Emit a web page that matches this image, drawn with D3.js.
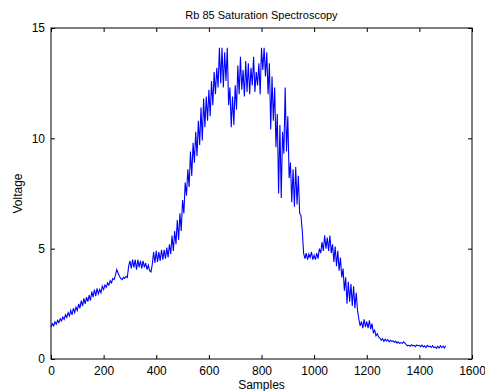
<!DOCTYPE html>
<html><head><meta charset="utf-8">
<script src="https://cdn.jsdelivr.net/npm/d3@7"></script>
<style>body{margin:0;background:#fff}svg{display:block}text{font-family:"Liberation Sans",Arial,sans-serif}</style>
</head><body>
<svg id="c" width="485" height="391"></svg>
<script>
const title = "Rb 85 Saturation Spectroscopy";
const xLabel = "Samples";
const yLabel = "Voltage";
const xTicks = [0,200,400,600,800,1000,1200,1400,1600];
const yTicks = [0,5,10,15];
const sampleStep = 5;
const voltage = [
1.45,1.6,1.5,1.68,1.58,1.75,1.65,1.82,1.72,1.9,
1.8,2.0,1.88,2.1,1.95,2.2,2.0,2.3,2.1,2.35,
2.2,2.5,2.3,2.65,2.4,2.75,2.5,2.8,2.6,2.9,
2.65,3.05,2.8,3.15,2.85,3.2,2.95,3.15,3.0,3.3,
3.15,3.35,3.25,3.45,3.35,3.55,3.45,3.65,3.6,3.8,
4.05,3.9,3.75,3.65,3.6,3.7,3.65,3.75,3.7,4.2,
4.45,4.1,4.5,4.15,4.5,4.05,4.5,4.15,4.45,4.1,
4.45,4.15,4.35,4.05,4.25,4.0,3.95,4.3,4.85,4.35,
4.9,4.4,4.85,4.45,4.95,4.5,4.95,4.55,5.05,4.6,
5.2,4.75,5.6,4.9,5.8,5.2,6.3,5.4,6.6,5.8,
7.2,6.6,8.0,7.4,8.6,7.8,9.4,8.3,9.8,8.9,
10.3,9.2,10.8,9.7,11.4,9.9,11.8,10.5,11.9,10.8,
12.2,11.0,12.6,11.5,13.0,12.0,13.2,12.3,14.1,12.5,
14.1,12.3,13.9,12.6,14.1,11.5,12.3,10.5,11.9,10.6,
12.4,11.3,13.3,12.0,13.7,12.2,13.1,11.9,13.5,12.1,
13.4,12.0,13.2,12.4,13.7,12.1,13.0,12.4,13.4,12.0,
14.1,13.1,14.1,12.8,13.9,12.0,13.4,10.4,12.8,10.8,
12.3,9.6,11.1,7.5,10.6,7.3,10.3,9.3,12.3,9.4,
11.0,8.2,8.9,7.1,8.6,6.9,8.7,7.0,8.3,6.6,
6.5,5.8,4.8,4.55,4.8,4.5,4.75,4.6,4.85,4.5,
4.7,4.5,4.8,4.55,5.0,4.8,5.3,4.9,5.6,5.0,
5.5,4.9,5.6,4.8,5.2,4.4,5.1,4.2,4.9,4.0,
4.6,3.7,4.1,3.1,3.7,2.5,3.5,2.6,3.4,2.4,
3.3,2.3,3.0,2.2,1.8,1.5,1.7,1.4,1.8,1.45,
1.7,1.4,1.75,1.35,1.6,1.2,1.3,1.05,1.15,1.0,
0.95,0.85,0.92,0.8,0.9,0.82,0.88,0.78,0.85,0.8,
0.82,0.76,0.8,0.72,0.78,0.7,0.75,0.7,0.78,0.72,
0.65,0.6,0.62,0.58,0.65,0.6,0.62,0.56,0.64,0.6,
0.62,0.56,0.63,0.55,0.6,0.52,0.62,0.56,0.58,0.52,
0.6,0.52,0.55,0.48,0.58,0.5,0.6,0.52,0.58,0.5,
0.6
];

const svg = d3.select("#c");
const L = 51, R = 472, T = 28, B = 359;
const x = d3.scaleLinear().domain([0,1600]).range([L,R]);
const y = d3.scaleLinear().domain([0,15]).range([B,T]);
const tl = 4;
const fmt = d3.format("d");

svg.append("rect").attr("x",L).attr("y",T).attr("width",R-L).attr("height",B-T)
  .attr("fill","none").attr("stroke","#000").attr("stroke-width",1);

const xg = svg.append("g").attr("transform",`translate(0,${B})`)
  .call(d3.axisBottom(x).tickValues(xTicks).tickFormat(fmt).tickSizeInner(-tl).tickSizeOuter(0).tickPadding(7));
const xt = svg.append("g").attr("transform",`translate(0,${T})`)
  .call(d3.axisTop(x).tickValues(xTicks).tickSizeInner(-tl).tickSizeOuter(0).tickFormat(""));
const yg = svg.append("g").attr("transform",`translate(${L},0)`)
  .call(d3.axisLeft(y).tickValues(yTicks).tickFormat(fmt).tickSizeInner(-tl).tickSizeOuter(0).tickPadding(6));
const yr = svg.append("g").attr("transform",`translate(${R},0)`)
  .call(d3.axisRight(y).tickValues(yTicks).tickSizeInner(-tl).tickSizeOuter(0).tickFormat(""));
[xg,xt,yg,yr].forEach(g=>{g.select(".domain").remove();
  g.selectAll("text").attr("font-size",12).attr("fill","#000").style("font-family",'"Liberation Sans",Arial,sans-serif');
  g.selectAll("line").attr("stroke","#000");});

const line = d3.line().x((d,i)=>x(i*sampleStep)).y(d=>y(d));
svg.append("path").datum(voltage).attr("d",line).attr("fill","none")
  .attr("stroke","#0000ff").attr("stroke-width",1.1);

svg.append("text").attr("x",(L+R)/2).attr("y",19).attr("text-anchor","middle")
  .attr("font-size",11).text(title);
svg.append("text").attr("x",(L+R)/2).attr("y",389).attr("text-anchor","middle")
  .attr("font-size",12).text(xLabel);
svg.append("text").attr("transform",`translate(22,${(T+B)/2}) rotate(-90)`).attr("text-anchor","middle")
  .attr("font-size",12).text(yLabel);
</script>
</body></html>
